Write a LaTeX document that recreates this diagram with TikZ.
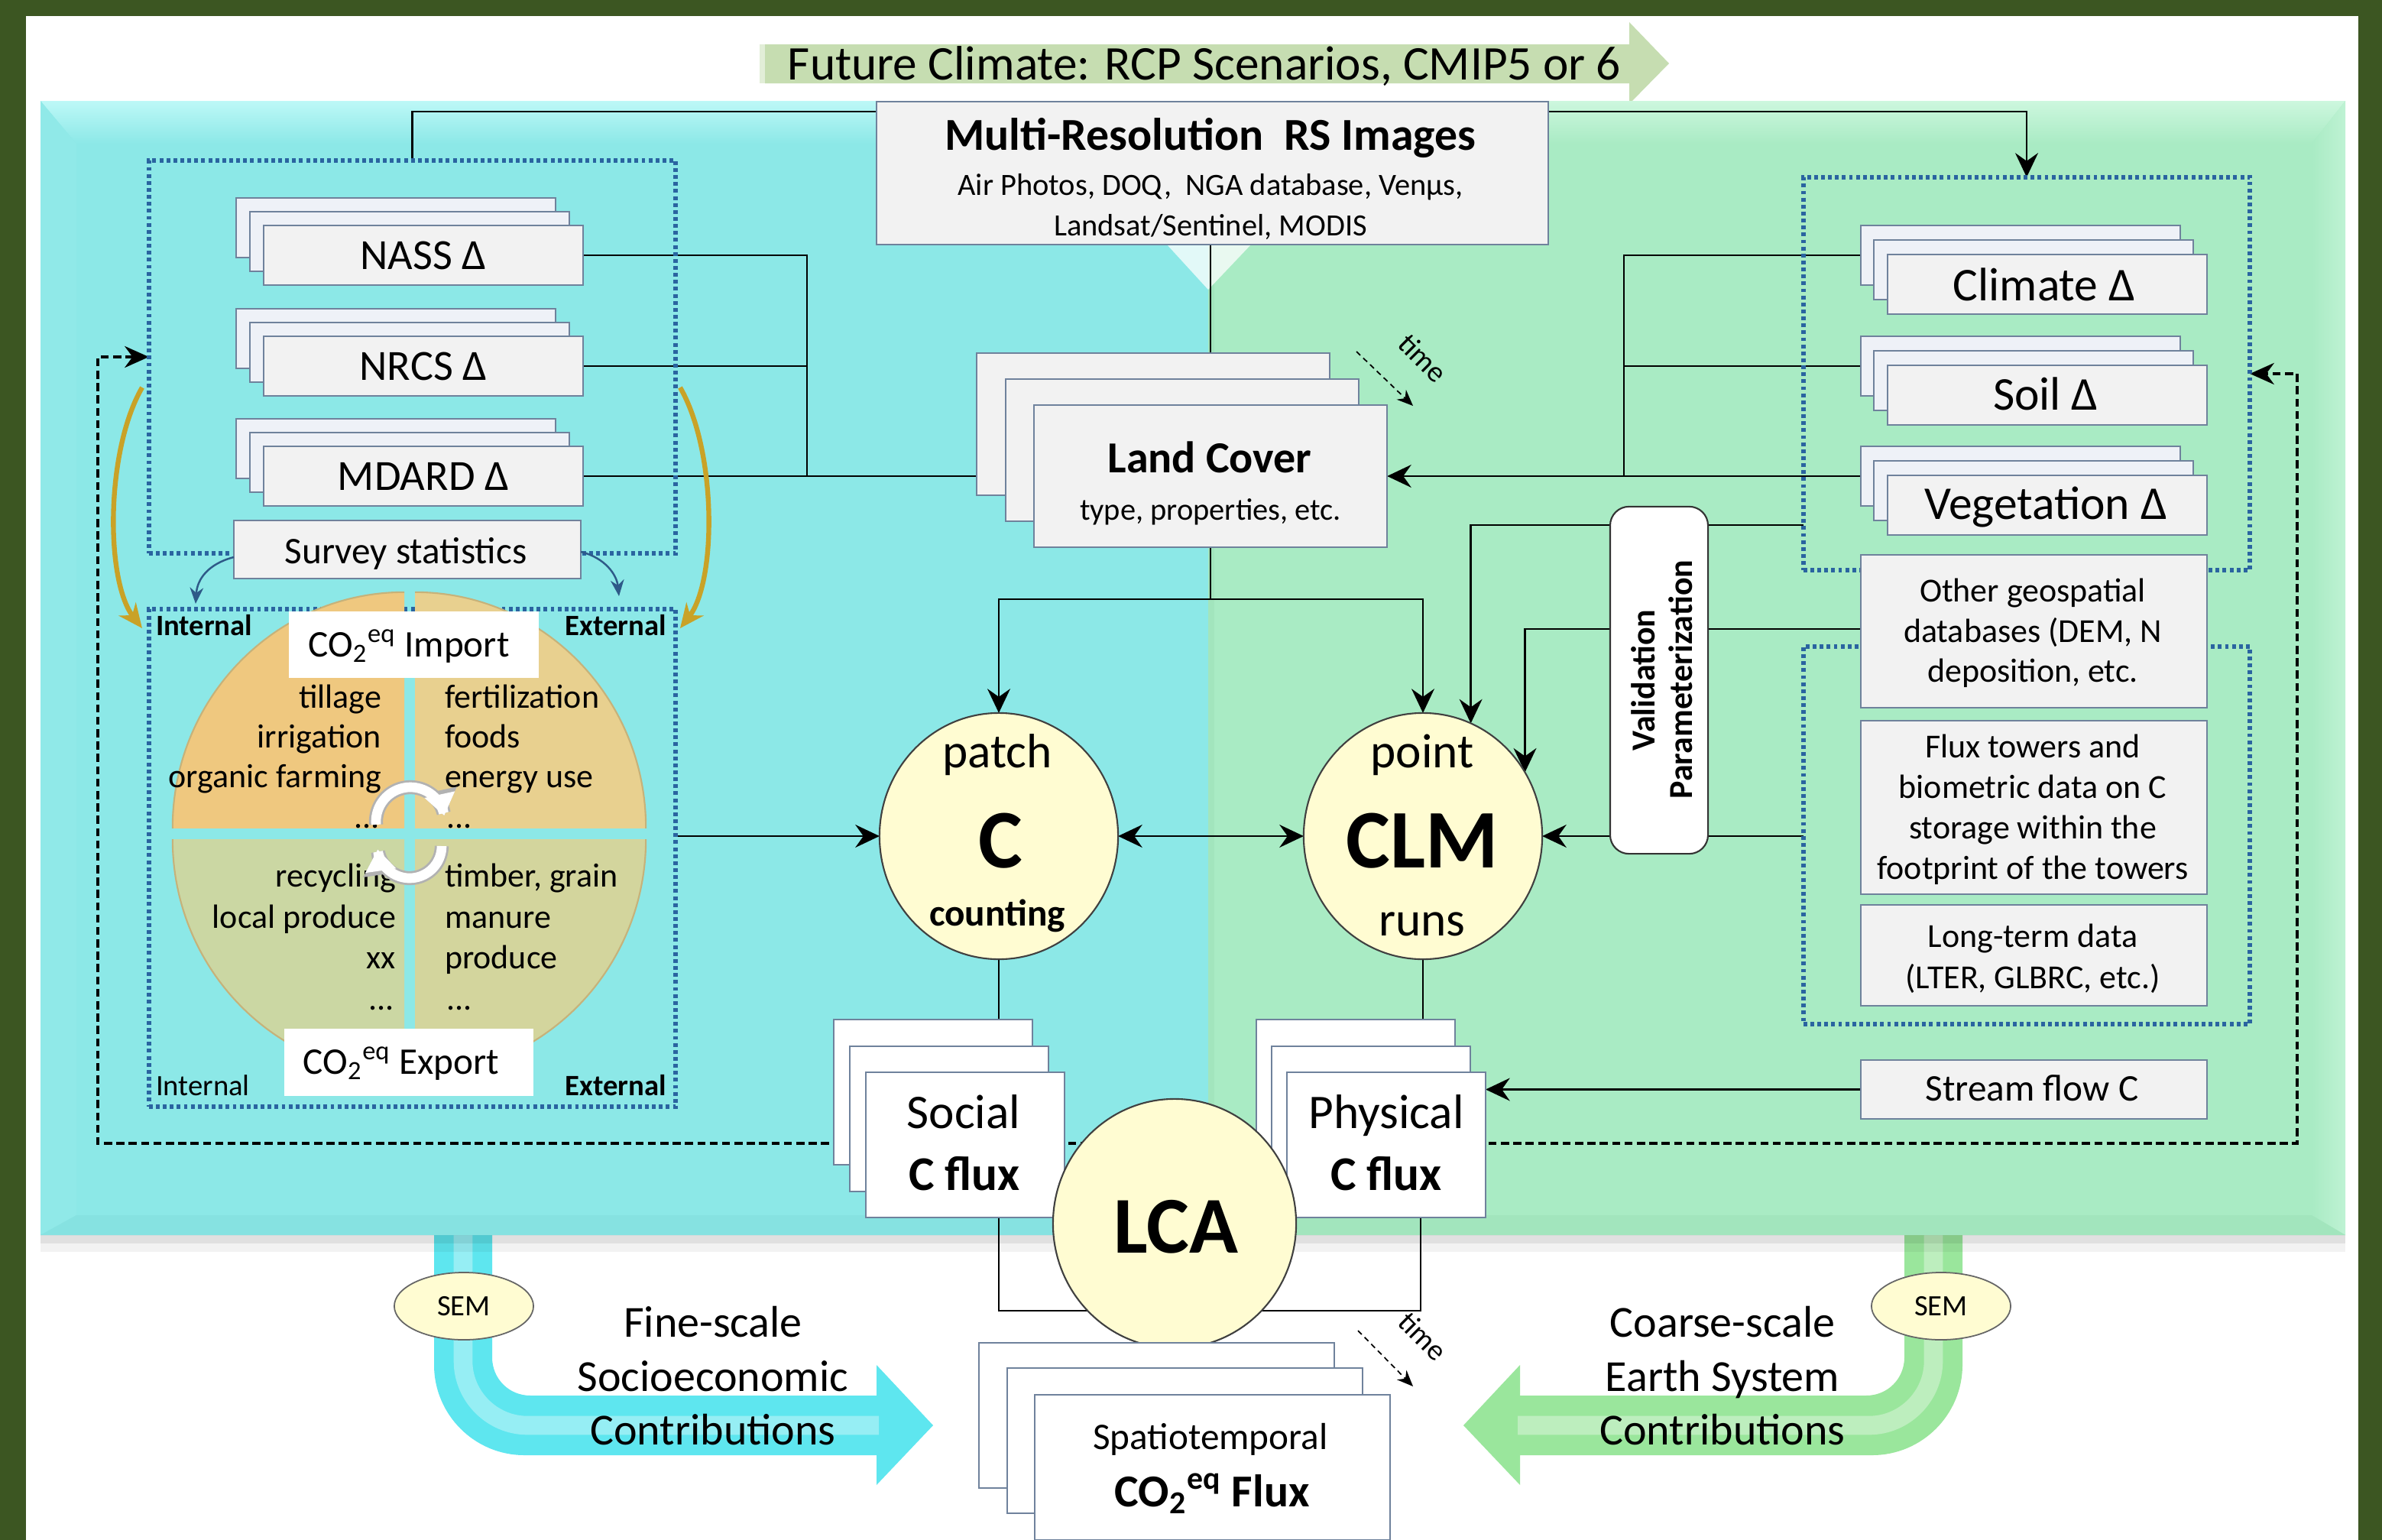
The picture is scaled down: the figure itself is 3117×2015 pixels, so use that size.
\documentclass[tikz,border=0pt]{standalone}
\usepackage{fontspec}
\setmainfont{Carlito}
\usetikzlibrary{arrows.meta,shapes.geometric,calc}
\pgfdeclarelayer{bg}
\pgfdeclarelayer{lines}
\pgfsetlayers{bg,lines,main}
\definecolor{dkgreen}{HTML}{3C5622}
\definecolor{cyanP}{HTML}{8CE8E7}
\definecolor{cyanL}{HTML}{BDF8F7}
\definecolor{cyanD}{HTML}{86E2E1}
\definecolor{greenP}{HTML}{A9EBC4}
\definecolor{greenL}{HTML}{CDF7DE}
\definecolor{greenD}{HTML}{A2E5BD}
\definecolor{boxfill}{HTML}{F2F2F2}
\definecolor{backfill}{HTML}{EEF1F7}
\definecolor{boxedge}{HTML}{6F829C}
\definecolor{dotblue}{HTML}{2A64A0}
\definecolor{cream}{HTML}{FFFCD2}
\definecolor{gold}{HTML}{C9A227}
\definecolor{sblue}{HTML}{2E5A88}
\definecolor{qtl}{HTML}{EFC87F}
\definecolor{qtr}{HTML}{E8D08F}
\definecolor{qbl}{HTML}{CBD7A3}
\definecolor{qbr}{HTML}{D3D59D}
\definecolor{qedge}{HTML}{C6B27A}
\definecolor{fcgreen}{HTML}{C6DDB1}
\definecolor{pipeC}{HTML}{5EE6EF}
\definecolor{pipeG}{HTML}{9AE69C}
\newcommand{\fz}[1]{\fontsize{#1}{#1}\selectfont}
\newcommand{\COeq}{CO\textsubscript{2}\textsuperscript{eq}}
\tikzset{
  every node/.style={inner sep=0pt,outer sep=0pt},
  sz/.style 2 args={minimum width=#1cm,minimum height=#2cm},
  bx/.style={rectangle,draw=boxedge,fill=boxfill,line width=0.5pt},
  bkbx/.style={rectangle,draw=boxedge,fill=backfill,line width=0.5pt},
  wbx/.style={rectangle,draw=boxedge,fill=white,line width=0.5pt},
  txt/.style={anchor=base},
  conn/.style={line width=0.7pt,draw=black},
  arr/.style={conn,-{Stealth[length=9pt,width=8.5pt,inset=3pt]}},
  dotbox/.style={rectangle,draw=dotblue,line width=1.6pt,dash pattern=on 1.4pt off 1.2pt},
  circ/.style={ellipse,draw=black!75,fill=cream,line width=0.6pt},
  semell/.style={ellipse,draw=black!60,fill=cream,line width=0.5pt,font=\fz{11}},
  dashloop/.style={line width=1pt,dash pattern=on 3pt off 1.6pt},
  timearr/.style={line width=0.5pt,dash pattern=on 2pt off 1.5pt,-{Stealth[length=6pt,width=5pt]}},
}
\begin{document}
\begin{tikzpicture}[x=0.01cm,y=-0.01cm]
\useasboundingbox (0,0) rectangle (3117,2015);
\begin{pgfonlayer}{bg}
\fill[dkgreen] (0,0) rectangle (3117,2015);
\fill[white] (34,21) rectangle (3086,2015);
% future climate arrow
\fill[fcgreen!50] (994,58) rectangle (1001,109);
\fill[fcgreen] (1001,58) -- (2132,58) -- (2132,29) -- (2184,83) -- (2132,136) -- (2132,109) -- (1001,109) -- cycle;
% pipes
\fill[pipeC] (568,1600) -- (568,1786) .. controls (568,1851) and (621,1904) .. (686,1904) -- (1147,1904) -- (1147,1943) -- (1221,1865) -- (1147,1786) -- (1147,1826) -- (694,1826) .. controls (666,1826) and (644,1804) .. (644,1776) -- (644,1600) -- cycle;
\draw[white,opacity=0.35,line width=7pt] (606,1616) -- (606,1781) .. controls (606,1827) and (644,1865) .. (690,1865) -- (1150,1865);
\fill[pipeG] (2568,1600) -- (2568,1786) .. controls (2568,1851) and (2515,1904) .. (2450,1904) -- (1989,1904) -- (1989,1943) -- (1915,1865) -- (1989,1786) -- (1989,1826) -- (2442,1826) .. controls (2470,1826) and (2492,1804) .. (2492,1776) -- (2492,1600) -- cycle;
\draw[white,opacity=0.35,line width=7pt] (2530,1616) -- (2530,1781) .. controls (2530,1827) and (2492,1865) .. (2446,1865) -- (1986,1865);
% panel
\fill[cyanP] (53,132) rectangle (1581,1616);
\fill[greenP] (1581,132) rectangle (3069,1616);
\shade[top color=cyanL,bottom color=cyanP] (53,132) -- (1581,132) -- (1581,188) -- (100,188) -- cycle;
\fill[cyanP!92!cyanL] (53,132) -- (100,188) -- (100,1590) -- (53,1616) -- cycle;
\fill[cyanD] (53,1616) -- (100,1590) -- (1581,1590) -- (1581,1616) -- cycle;
\shade[top color=greenL,bottom color=greenP] (1581,132) -- (3069,132) -- (3025,188) -- (1581,188) -- cycle;
\shade[left color=greenP,right color=greenL!60!greenP] (3069,132) -- (3069,1616) -- (3025,1590) -- (3025,188) -- cycle;
\fill[greenD] (1581,1590) -- (3025,1590) -- (3069,1616) -- (1581,1616) -- cycle;
\fill[greenD] (1581,188) rectangle (1589,1590);
\fill[white,opacity=0.75] (1527,320) -- (1637,320) -- (1581,379) -- cycle;
\fill[black,opacity=0.12] (53,1616) rectangle (3069,1627);
\fill[black,opacity=0.05] (53,1627) rectangle (3069,1638);
\end{pgfonlayer}

\node[txt,font=\fz{18}] (fc) at (1576,104) {Future Climate: RCP Scenarios, CMIP5 or 6};

% dotted groups
\node[dotbox,sz={6.89}{5.14}] (lud) at (539.5,467) {};
\node[dotbox,sz={6.89}{6.51}] (lld) at (539.5,1122.5) {};
\node[dotbox,sz={5.84}{5.14}] (rud) at (2652,489) {};
\node[dotbox,sz={5.84}{4.94}] (rld) at (2652,1093) {};

% quadrants
\begin{scope}
\clip (200,740) rectangle (529,1083);
\filldraw[fill=qtl,draw=qedge,line width=0.6pt] (529,1083) ellipse [x radius=3.03cm,y radius=3.08cm];
\end{scope}
\begin{scope}
\clip (543,740) rectangle (880,1083);
\filldraw[fill=qtr,draw=qedge,line width=0.6pt] (543,1083) ellipse [x radius=3.02cm,y radius=3.08cm];
\end{scope}
\begin{scope}
\clip (200,1098) rectangle (529,1440);
\filldraw[fill=qbl,draw=qedge,line width=0.6pt] (529,1098) ellipse [x radius=3.03cm,y radius=3.08cm];
\end{scope}
\begin{scope}
\clip (543,1098) rectangle (880,1440);
\filldraw[fill=qbr,draw=qedge,line width=0.6pt] (543,1098) ellipse [x radius=3.02cm,y radius=3.08cm];
\end{scope}
\node[anchor=base east,font=\fz{12.5}] (qa1) at (499,926) {tillage};
\node[anchor=base east,font=\fz{12.5}] (qa2) at (499,978) {irrigation};
\node[anchor=base east,font=\fz{12.5}] (qa3) at (499,1030) {organic farming};
\node[anchor=base east,font=\fz{12.5}] (qa4) at (497,1083) {...};
\node[anchor=base west,font=\fz{12.5}] (qb1) at (582,926) {fertilization};
\node[anchor=base west,font=\fz{12.5}] (qb2) at (582,978) {foods};
\node[anchor=base west,font=\fz{12.5}] (qb3) at (582,1030) {energy use};
\node[anchor=base west,font=\fz{12.5}] (qb4) at (584,1083) {...};
\node[anchor=base east,font=\fz{12.5}] (qc1) at (518,1160) {recycling};
\node[anchor=base east,font=\fz{12.5}] (qc2) at (518,1214) {local produce};
\node[anchor=base east,font=\fz{12.5}] (qc3) at (518,1267) {xx};
\node[anchor=base east,font=\fz{12.5}] (qc4) at (516,1321) {...};
\node[anchor=base west,font=\fz{12.5}] (qd1) at (582,1160) {timber, grain};
\node[anchor=base west,font=\fz{12.5}] (qd2) at (582,1214) {manure};
\node[anchor=base west,font=\fz{12.5}] (qd3) at (582,1267) {produce};
\node[anchor=base west,font=\fz{12.5}] (qd4) at (584,1321) {...};
% recycle arrows
\draw[black!30,line width=5.2pt,{Triangle[length=9.5pt,width=13pt]}-] plot[domain=10:185,samples=40] ({537+45*cos(\x)},{1075-45*sin(\x)});
\draw[white,line width=3.6pt,{Triangle[length=8pt,width=11pt]}-] plot[domain=10:185,samples=40] ({537+45*cos(\x)},{1075-45*sin(\x)});
\draw[black!30,line width=5.2pt,{Triangle[length=9.5pt,width=13pt]}-] plot[domain=-174:0,samples=40] ({536+42*cos(\x)},{1107-42*sin(\x)});
\draw[white,line width=3.6pt,{Triangle[length=8pt,width=11pt]}-] plot[domain=-174:0,samples=40] ({536+42*cos(\x)},{1107-42*sin(\x)});

% import / export
\node[rectangle,fill=white,sz={3.27}{0.87}] (imp) at (541.5,843.5) {};
\node[txt,font=\fz{14}] (impt) at (535,859) {\COeq\ Import};
\node[rectangle,fill=white,sz={3.26}{0.88}] (expo) at (535,1390) {};
\node[txt,font=\fz{14}] (expt) at (525,1405) {\COeq\ Export};
\node[anchor=base west,font=\fz{11}\bfseries] (in1) at (204,831) {Internal};
\node[anchor=base east,font=\fz{11}\bfseries] (ex1) at (872,831) {External};
\node[anchor=base west,font=\fz{11}] (in2) at (204,1433) {Internal};
\node[anchor=base east,font=\fz{11}\bfseries] (ex2) at (872,1433) {External};

% left stacks
\node[bkbx,sz={4.18}{0.78}] (nass3) at (518,298) {};
\node[bkbx,sz={4.18}{0.78}] (nass2) at (536,316) {};
\node[bx,sz={4.18}{0.78}] (nass1) at (554,334) {};
\node[txt,font=\fz{16}] (nasst) at (554,352) {NASS Δ};
\node[bkbx,sz={4.18}{0.78}] (nrcs3) at (518,443) {};
\node[bkbx,sz={4.18}{0.78}] (nrcs2) at (536,461) {};
\node[bx,sz={4.18}{0.78}] (nrcs1) at (554,479) {};
\node[txt,font=\fz{16}] (nrcst) at (554,497) {NRCS Δ};
\node[bkbx,sz={4.18}{0.78}] (mdard3) at (518,587) {};
\node[bkbx,sz={4.18}{0.78}] (mdard2) at (536,605) {};
\node[bx,sz={4.18}{0.78}] (mdard1) at (554,623) {};
\node[txt,font=\fz{16}] (mdardt) at (554,641) {MDARD Δ};
\node[bx,sz={4.54}{0.76}] (survey) at (533,719) {};
\node[txt,font=\fz{14}] (surveyt) at (531,737) {Survey statistics};

% right stacks
\node[bkbx,sz={4.18}{0.78}] (clim3) at (2644,334) {};
\node[bkbx,sz={4.18}{0.78}] (clim2) at (2661,353) {};
\node[bx,sz={4.18}{0.78}] (clim1) at (2679,372) {};
\node[txt,font=\fz{17.5}] (climt) at (2675,393) {Climate Δ};
\node[bkbx,sz={4.18}{0.78}] (soil3) at (2644,479) {};
\node[bkbx,sz={4.18}{0.78}] (soil2) at (2661,498) {};
\node[bx,sz={4.18}{0.78}] (soil1) at (2679,517) {};
\node[txt,font=\fz{17.5}] (soilt) at (2677,536) {Soil Δ};
\node[bkbx,sz={4.18}{0.78}] (veg3) at (2644,623) {};
\node[bkbx,sz={4.18}{0.78}] (veg2) at (2661,642) {};
\node[bx,sz={4.18}{0.78}] (veg1) at (2679,661) {};
\node[txt,font=\fz{17.5}] (vegt) at (2677,679) {Vegetation Δ};

\node[bx,sz={4.53}{2.00}] (other) at (2661.5,826) {};
\node[txt,font=\fz{12.5}] (og1) at (2660,787) {Other geospatial};
\node[txt,font=\fz{12.5}] (og2) at (2660,840) {databases (DEM, N};
\node[txt,font=\fz{12.5}] (og3) at (2660,892) {deposition, etc.};
\node[bx,sz={4.53}{2.27}] (flux) at (2661.5,1056.5) {};
\node[txt,font=\fz{12.5}] (fx1) at (2660,991) {Flux towers and};
\node[txt,font=\fz{12.5}] (fx2) at (2660,1044) {biometric data on C};
\node[txt,font=\fz{12.5}] (fx3) at (2660,1097) {storage within the};
\node[txt,font=\fz{12.5}] (fx4) at (2660,1150) {footprint of the towers};
\node[bx,sz={4.53}{1.32}] (longt) at (2661.5,1250) {};
\node[txt,font=\fz{12.5}] (lt1) at (2660,1239) {Long-term data};
\node[txt,font=\fz{12.5}] (lt2) at (2660,1293) {(LTER, GLBRC, etc.)};
\node[bx,sz={4.53}{0.77}] (stream) at (2661.5,1425.5) {};
\node[txt,font=\fz{14}] (streamt) at (2659,1440) {Stream flow C};

\node[rectangle,rounded corners=7pt,draw=black!80,fill=white,line width=0.6pt,sz={1.28}{4.54}] (val) at (2171,890) {};
\node[anchor=base,rotate=90,font=\fz{12.5}\bfseries] (valt1) at (2165,890) {Validation};
\node[anchor=base,rotate=90,font=\fz{12.5}\bfseries] (valt2) at (2214,889) {Parameterization};

% multi-resolution
\node[bx,sz={8.79}{1.87}] (mr) at (1586.5,226.5) {};
\node[txt,font=\fz{17}\bfseries] (mrt) at (1584,196) {Multi-Resolution\ \ RS Images};
\node[txt,font=\fz{11.5}] (mrs1) at (1584,255) {Air Photos, DOQ,\ \ NGA database, Venμs,};
\node[txt,font=\fz{11.5}] (mrs2) at (1584,308) {Landsat/Sentinel, MODIS};

% land cover
\node[bx,sz={4.62}{1.86}] (lc3) at (1509,555) {};
\node[bx,sz={4.62}{1.86}] (lc2) at (1547,589) {};
\node[bx,sz={4.62}{1.86}] (lc1) at (1584,623) {};
\node[txt,font=\fz{16.5}\bfseries] (lct) at (1583,618) {Land Cover};
\node[txt,font=\fz{11.5}] (lcs) at (1584,680) {type, properties, etc.};
\draw[timearr] (1775,460) -- (1849,531);
\node[font=\fz{11},rotate=-45] (time1) at (1862,468) {time};

% circles
\node[circ,sz={3.12}{3.22}] (cc) at (1307,1094) {};
\node[txt,font=\fz{18}] (cct1) at (1305,1004) {patch};
\node[txt,font=\fz{31}\bfseries] (cct2) at (1309,1135) {C};
\node[txt,font=\fz{14}\bfseries] (cct3) at (1305,1211) {counting};
\node[circ,sz={3.12}{3.22}] (clm) at (1862,1094) {};
\node[txt,font=\fz{18}] (clmt1) at (1861,1004) {point};
\node[txt,font=\fz{31}\bfseries] (clmt2) at (1861,1135) {CLM};
\node[txt,font=\fz{18}] (clmt3) at (1861,1224) {runs};

% social / physical
\node[wbx,sz={2.60}{1.90}] (soc3) at (1221,1429) {};
\node[wbx,sz={2.60}{1.90}] (soc2) at (1242,1464) {};
\node[wbx,sz={2.60}{1.90}] (soc1) at (1263,1498) {};
\node[txt,font=\fz{18}] (soct1) at (1261,1476) {Social};
\node[txt,font=\fz{18}\bfseries] (soct2) at (1262,1557) {C flux};
\node[wbx,sz={2.60}{1.90}] (phy3) at (1774,1429) {};
\node[wbx,sz={2.60}{1.90}] (phy2) at (1794,1464) {};
\node[wbx,sz={2.60}{1.90}] (phy1) at (1814,1498) {};
\node[txt,font=\fz{18}] (phyt1) at (1814,1476) {Physical};
\node[txt,font=\fz{18}\bfseries] (phyt2) at (1814,1557) {C flux};

\node[circ,sz={3.18}{3.26}] (lca) at (1537,1601) {};
\node[txt,font=\fz{30}\bfseries] (lcat) at (1539,1639) {LCA};

% spatiotemporal
\node[wbx,sz={4.65}{1.90}] (sp3) at (1513.5,1852) {};
\node[wbx,sz={4.65}{1.90}] (sp2) at (1550.5,1885) {};
\node[wbx,sz={4.65}{1.90}] (sp1) at (1586.5,1920) {};
\node[txt,font=\fz{14}] (spt1) at (1584,1896) {Spatiotemporal};
\node[txt,font=\fz{17}\bfseries] (spt2) at (1586,1971) {\COeq\ Flux};
\draw[timearr] (1777,1741) -- (1849,1814);
\node[font=\fz{11},rotate=-45] (time2) at (1862,1748) {time};

% SEM and contributions
\node[semell,sz={1.82}{0.88}] (seml) at (607,1709) {SEM};
\node[semell,sz={1.82}{0.88}] (semr) at (2540,1709) {SEM};
\node[txt,font=\fz{16.5}] (fs1) at (933,1749) {Fine-scale};
\node[txt,font=\fz{16.5}] (fs2) at (933,1820) {Socioeconomic};
\node[txt,font=\fz{16.5}] (fs3) at (933,1890) {Contributions};
\node[txt,font=\fz{16.5}] (cs1) at (2254,1749) {Coarse-scale};
\node[txt,font=\fz{16.5}] (cs2) at (2254,1820) {Earth System};
\node[txt,font=\fz{16.5}] (cs3) at (2254,1890) {Contributions};

% curved arrows
\draw[gold,line width=1.8pt,-{Stealth[length=9pt,width=8pt]}] (186,507) .. controls (138,590) and (138,760) .. (186,822);
\draw[gold,line width=1.8pt,-{Stealth[length=9pt,width=8pt]}] (890,507) .. controls (938,590) and (938,760) .. (890,822);
\draw[sblue,line width=0.7pt,-{Stealth[length=6pt,width=5pt]}] (survey.west |- 0,729) .. controls (272,738) and (258,758) .. (256,790);
\draw[sblue,line width=0.7pt,-{Stealth[length=6pt,width=5pt]}] (survey.east |- 0,722) .. controls (792,730) and (807,752) .. (810,780);

\begin{pgfonlayer}{lines}
\draw[dashloop,{Stealth[length=9pt,width=8pt]}-{Stealth[length=9pt,width=8pt]}] (lud.west) -| (128,1496) -| (3006,489) -- (rud.east);
\draw[conn] (mr.west |- 0,146) -| (lud.north);
\draw[arr] (mr.east |- 0,146) -| (rud.north);
\draw[arr] (lc1.north |- mr.south) -- (lc1.north);
\draw[conn] (nass1.east) -| (1056,623);
\draw[conn] (nrcs1.east) -- (nrcs1.east -| 1056,0);
\draw[arr] (mdard1.east) -- (lc1.west);
\draw[conn] (clim3.west) -| (2125,623);
\draw[conn] (soil3.west) -- (soil3.west -| 2125,0);
\draw[arr] (veg3.west) -- (lc1.east);
\draw[conn] (lc1.south) -- (1584,784);
\draw[arr] (1584,784) -| (cc.north);
\draw[arr] (1584,784) -| (clm.north);
\draw[arr] (rud.west |- 0,687) -| (clm.67);
\draw[arr] (other.west |- 0,823) -| (clm.32);
\draw[arr] (rld.west |- clm.east) -- (clm.east);
\draw[conn,{Stealth[length=9pt,width=8.5pt,inset=3pt]}-{Stealth[length=9pt,width=8.5pt,inset=3pt]}] (cc.east) -- (clm.west);
\draw[arr] (lld.east |- cc.west) -- (cc.west);
\draw[arr] (cc.south) -- (cc.south |- soc1.north);
\draw[arr] (clm.south) -- (clm.south |- phy1.north);
\draw[arr] (stream.west) -- (stream.west -| phy1.east);
\draw[conn] (soc1.south -| 1307,0) |- (lca.225);
\draw[conn] (phy1.south -| 1859,0) |- (lca.315);
\draw[arr] (lca.south) -- (lca.south |- sp1.north);
\end{pgfonlayer}
\end{tikzpicture}
\end{document}
